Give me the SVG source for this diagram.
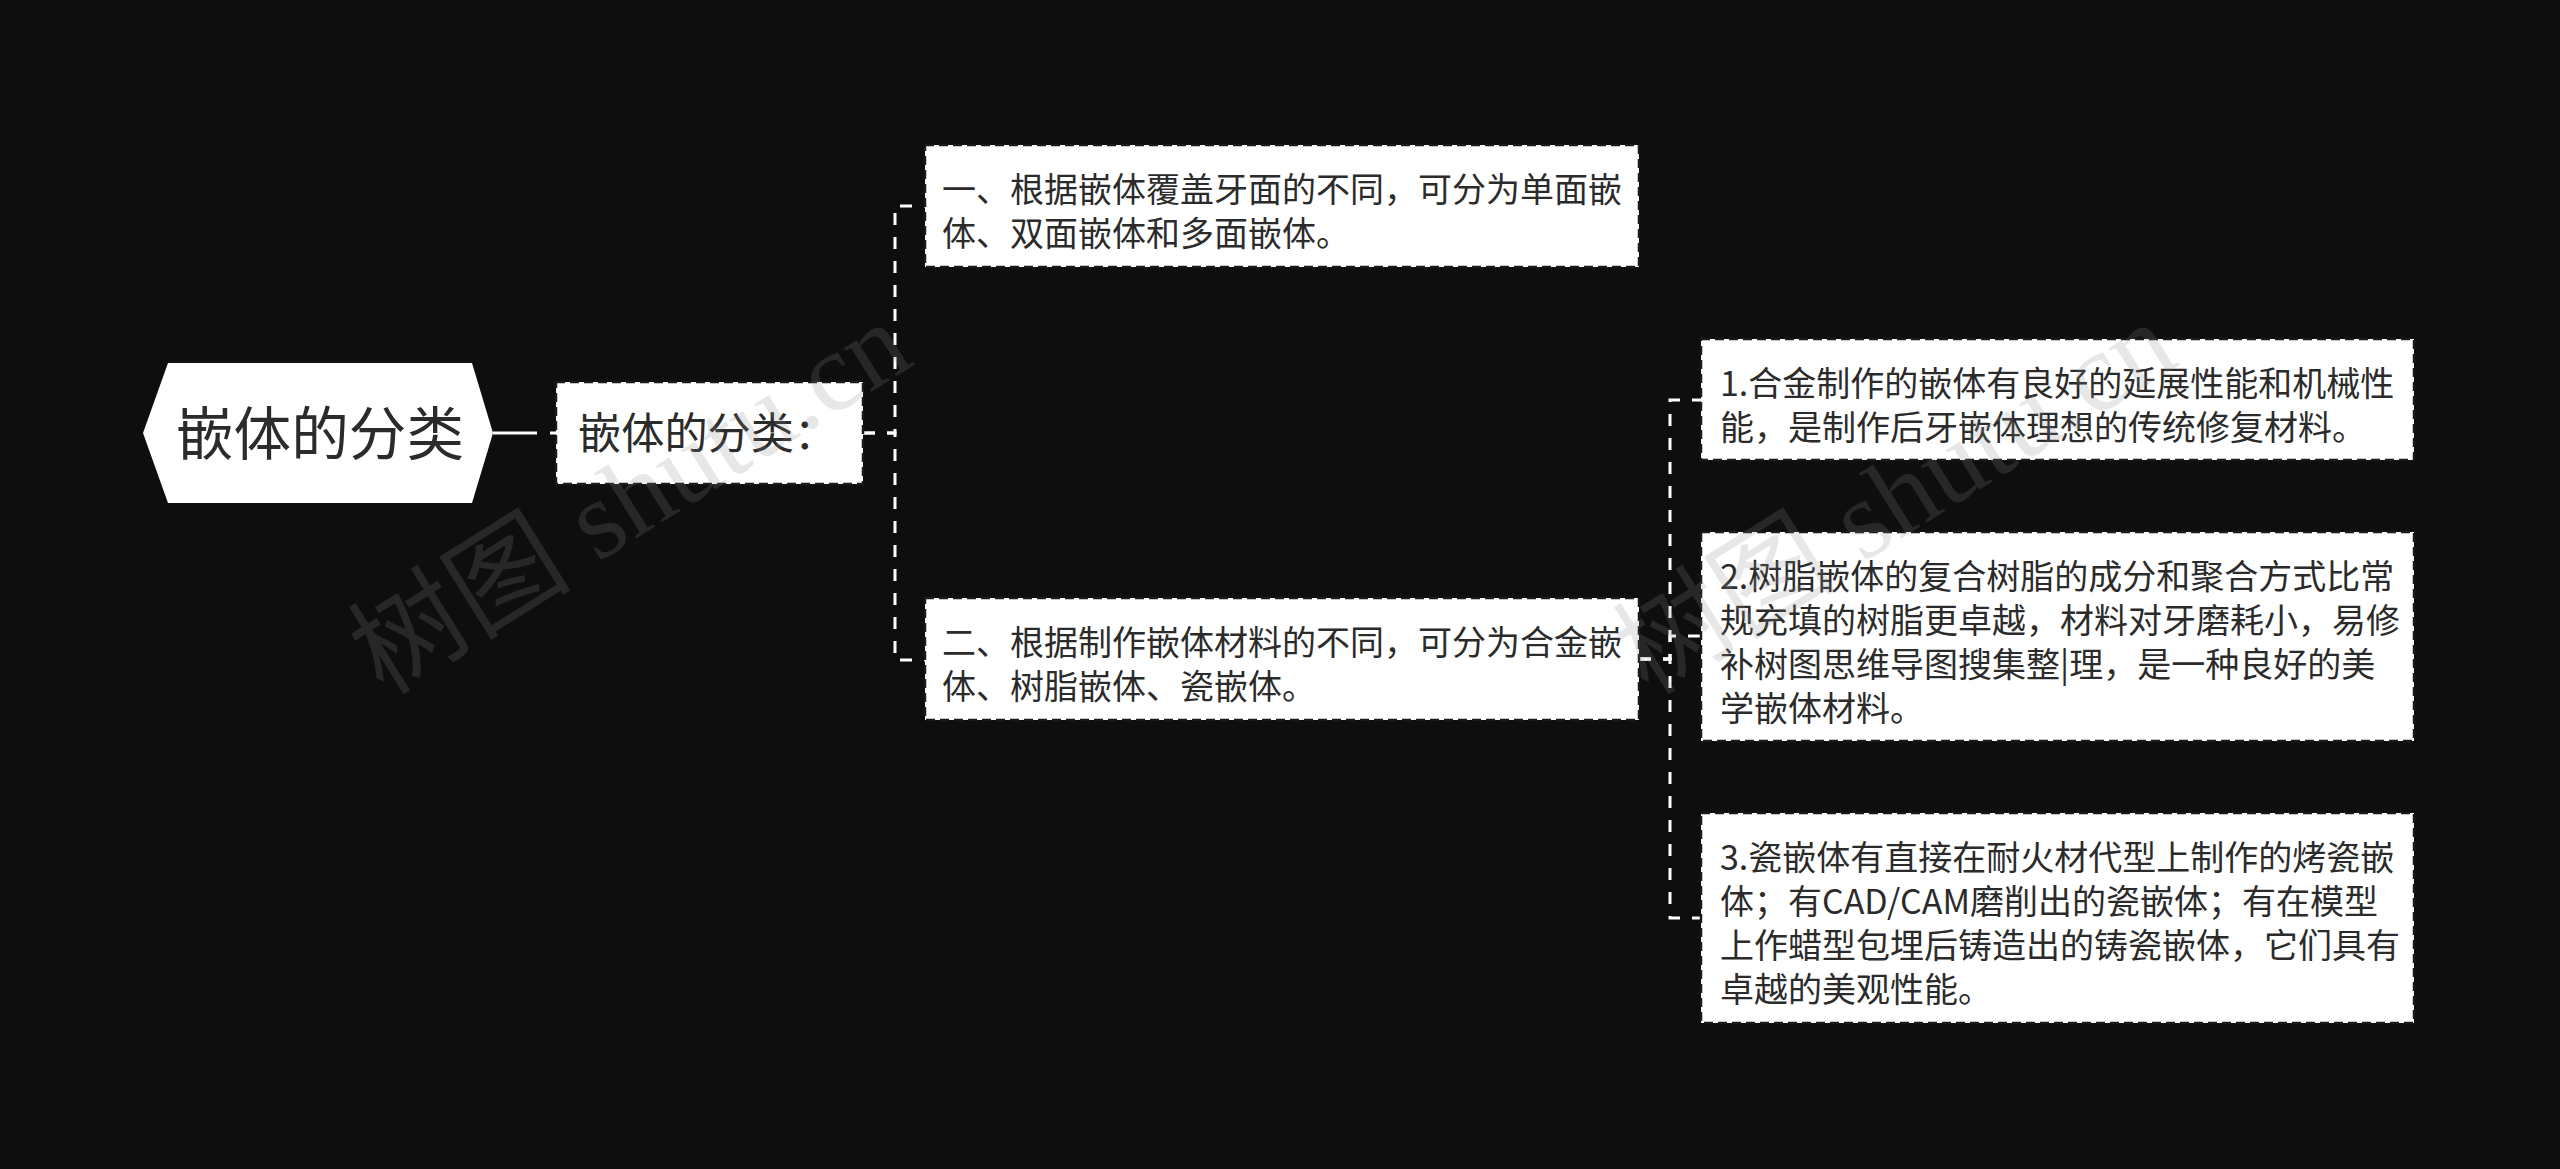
<svg xmlns="http://www.w3.org/2000/svg" width="2560" height="1169" viewBox="0 0 2560 1169">
<style>
.bg{fill:#0e0e0e}
.box{fill:#ffffff;stroke:#1a1a1a;stroke-width:2.5;stroke-dasharray:9 5}
.t{font-family:"Noto Sans CJK SC","Noto Sans",sans-serif;fill:#2b2b2b}
.t2{font-size:34px}
.conn{fill:none;stroke:#ffffff;stroke-width:3;stroke-dasharray:12 12}
.wm{font-family:"Liberation Serif","Noto Sans CJK SC",serif;font-size:112px;fill:#8a8a8a;opacity:0.2}
</style>
<rect class="bg" x="0" y="0" width="2560" height="1169"/>
<g id="connectors">
<path d="M493 433 H556" fill="none" stroke="#ffffff" stroke-width="3" stroke-dasharray="44 13 20"/>
<path class="conn" d="M863 433 H895 V206 H925"/>
<path class="conn" d="M863 433 H895 V660 H925"/>
<path class="conn" d="M1639 659 H1670 V400 H1701"/>
<path class="conn" d="M1639 659 H1670 V636 H1701"/>
<path class="conn" d="M1639 659 H1670 V918 H1701"/>
</g>
<g id="root">
<polygon points="143,433 168,363 472,363 493,433 472,503 168,503" fill="#ffffff"/>
<text class="t" x="320" y="455" font-size="57.6" text-anchor="middle">嵌体的分类</text>
</g>
<g id="n1">
<rect class="box" x="556" y="382" width="307" height="102"/>
<text class="t" x="578" y="449" font-size="43.2">嵌体的分类：</text>
</g>
<g id="n1-1">
<rect class="box" x="925" y="145" width="714" height="122"/>
<text class="t t2" x="942" y="202">一、根据嵌体覆盖牙面的不同，可分为单面嵌</text>
<text class="t t2" x="942" y="246">体、双面嵌体和多面嵌体。</text>
</g>
<g id="n1-2">
<rect class="box" x="925" y="598" width="714" height="122"/>
<text class="t t2" x="942" y="655">二、根据制作嵌体材料的不同，可分为合金嵌</text>
<text class="t t2" x="942" y="699">体、树脂嵌体、瓷嵌体。</text>
</g>
<g id="n2-1">
<rect class="box" x="1701" y="339" width="713" height="121"/>
<text class="t t2" x="1720" y="396">1.合金制作的嵌体有良好的延展性能和机械性</text>
<text class="t t2" x="1720" y="440">能，是制作后牙嵌体理想的传统修复材料。</text>
</g>
<g id="n2-2">
<rect class="box" x="1701" y="532" width="713" height="209"/>
<text class="t t2" x="1720" y="589">2.树脂嵌体的复合树脂的成分和聚合方式比常</text>
<text class="t t2" x="1720" y="633">规充填的树脂更卓越，材料对牙磨耗小，易修</text>
<text class="t t2" x="1720" y="677">补树图思维导图搜集整|理，是一种良好的美</text>
<text class="t t2" x="1720" y="721">学嵌体材料。</text>
</g>
<g id="n2-3">
<rect class="box" x="1701" y="813" width="713" height="210"/>
<text class="t t2" x="1720" y="870">3.瓷嵌体有直接在耐火材代型上制作的烤瓷嵌</text>
<text class="t t2" x="1720" y="914">体；有CAD/CAM磨削出的瓷嵌体；有在模型</text>
<text class="t t2" x="1720" y="958">上作蜡型包埋后铸造出的铸瓷嵌体，它们具有</text>
<text class="t t2" x="1720" y="1002">卓越的美观性能。</text>
</g>
<g id="watermark">
<text class="wm" x="650" y="530" text-anchor="middle" transform="rotate(-32 650 530)">树图 shutu.cn</text>
<text class="wm" x="1915" y="530" text-anchor="middle" transform="rotate(-32 1915 530)">树图 shutu.cn</text>
</g>
</svg>
